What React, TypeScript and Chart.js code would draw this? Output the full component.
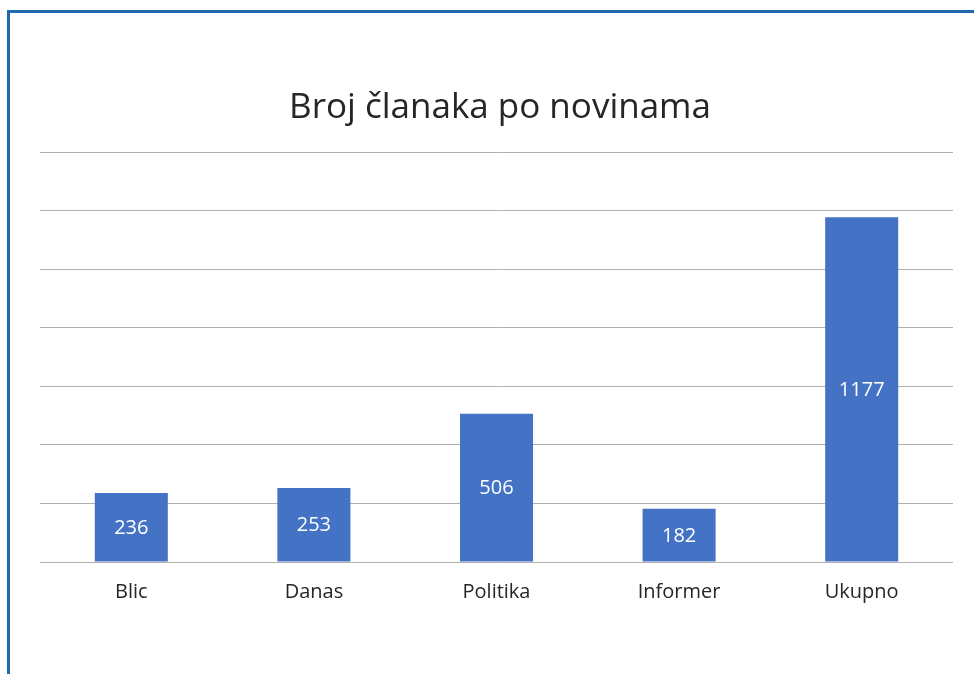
import React, { useEffect, useRef } from "react";
import { Chart, registerables } from "chart.js";

Chart.register(...registerables);

const title = "Broj članaka po novinama";
const categories = ["Blic", "Danas", "Politika", "Informer", "Ukupno"];
const values = [236, 253, 506, 182, 1177];
const yMax = 1400;
const yStep = 200;

const FONT = "'Open Sans', 'Noto Sans', sans-serif";

const titlePlugin = {
  id: "customTitle",
  afterDraw(chart: any) {
    const ctx = chart.ctx;
    ctx.save();
    ctx.font = `35px ${FONT}`;
    ctx.fillStyle = "#262626";
    ctx.textAlign = "center";
    ctx.textBaseline = "alphabetic";
    ctx.fillText(title, 500, 118);
    ctx.restore();
  },
};

const valueLabels = {
  id: "valueLabels",
  afterDatasetsDraw(chart: any) {
    const ctx = chart.ctx;
    const meta = chart.getDatasetMeta(0);
    ctx.save();
    ctx.font = `20px ${FONT}`;
    ctx.fillStyle = "#ffffff";
    ctx.textAlign = "center";
    ctx.textBaseline = "middle";
    meta.data.forEach((bar: any, i: number) => {
      const { x, y, base } = bar.getProps(["x", "y", "base"], true);
      ctx.fillText(String(values[i]), x, (y + base) / 2 + 1);
    });
    ctx.restore();
  },
};

export default function App() {
  const ref = useRef<HTMLCanvasElement>(null);
  useEffect(() => {
    document.body.style.margin = "0";
    const chart = new Chart(ref.current!, {
      type: "bar",
      data: {
        labels: categories,
        datasets: [
          {
            data: values,
            backgroundColor: "#4472C4",
            borderWidth: 0,
            barPercentage: 0.8,
            categoryPercentage: 0.5,
          },
        ],
      },
      options: {
        animation: false,
        responsive: false,
        maintainAspectRatio: false,
        layout: { padding: { top: 152, left: 40, right: 21, bottom: 0 } },
        plugins: {
          legend: { display: false },
          title: { display: false },
          tooltip: { enabled: false },
        },
        scales: {
          x: {
            grid: { display: false, drawTicks: false },
            border: { display: false },
            ticks: {
              color: "#262626",
              font: { family: FONT, size: 20 },
              padding: 18,
            },
            afterFit(scale: any) {
              scale.height = 112;
            },
          },
          y: {
            min: 0,
            max: yMax,
            ticks: { display: false, stepSize: yStep },
            grid: { color: "#b0b0b0", lineWidth: 1, drawTicks: false },
            border: { display: false },
          },
        },
      },
      plugins: [titlePlugin, valueLabels],
    });
    return () => chart.destroy();
  }, []);
  return (
    <div style={{ position: "relative", width: 974, height: 674 }}>
      <canvas ref={ref} width={974} height={674} style={{ display: "block" }} />
      <div
        style={{
          position: "absolute",
          left: 7,
          top: 10,
          right: 0,
          bottom: 0,
          borderTop: "3px solid #1F6BB0",
          borderLeft: "3px solid #1F6BB0",
          pointerEvents: "none",
        }}
      />
    </div>
  );
}
